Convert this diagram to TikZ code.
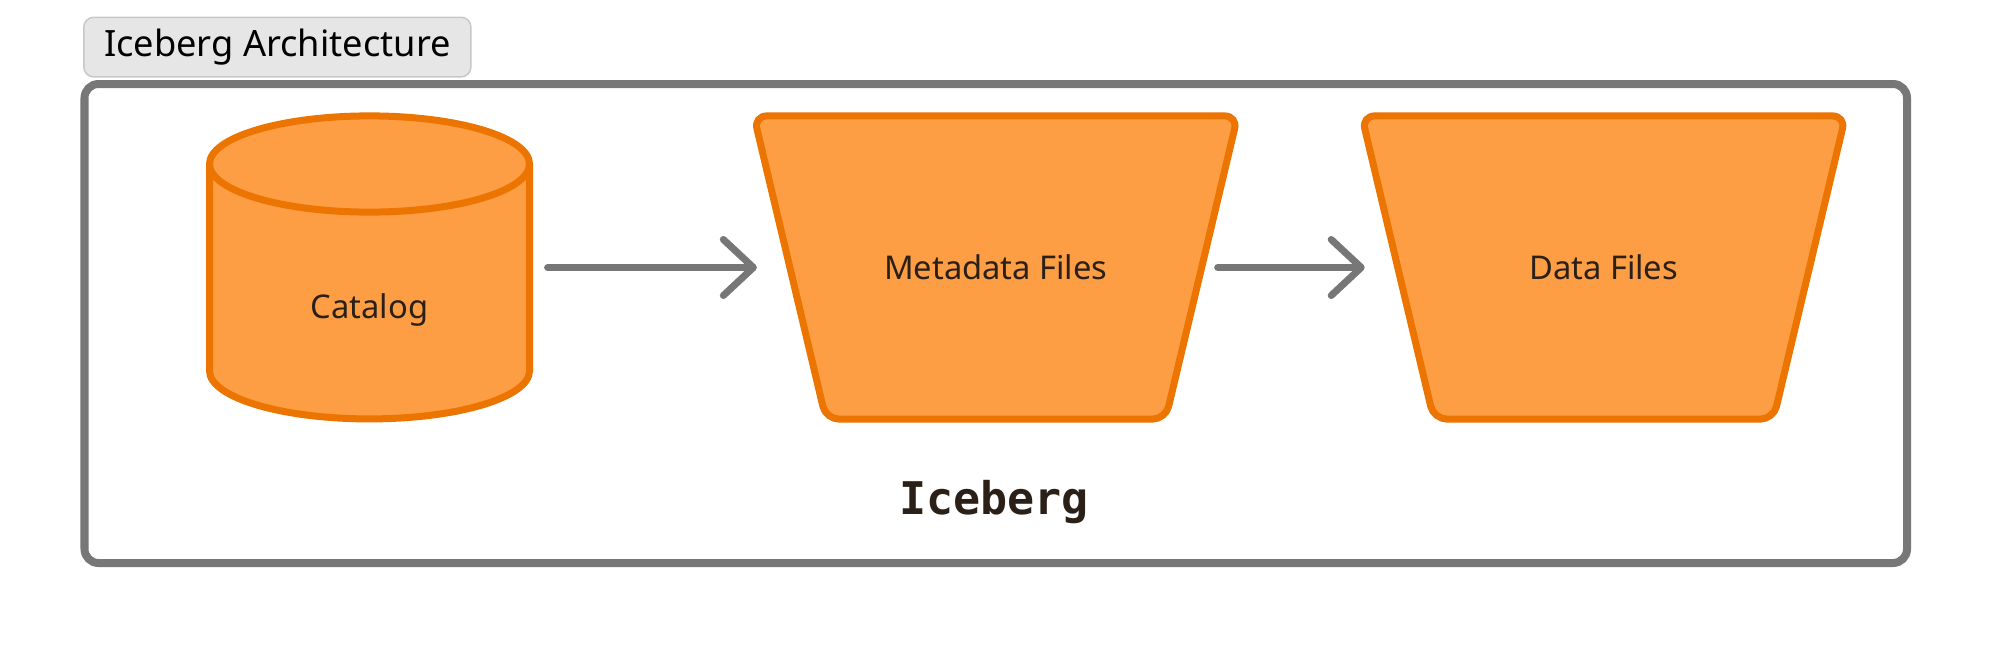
\documentclass[tikz,border=0pt]{standalone}
\usepackage{fontspec}
\setmainfont{Noto Sans}
\newfontfamily\codefont{DejaVu Sans Mono}
\usetikzlibrary{arrows.meta,backgrounds}

\definecolor{filesfill}{HTML}{FD9E45}
\definecolor{filesline}{HTML}{EB7500}
\definecolor{framegray}{HTML}{777777}
\definecolor{titlefill}{HTML}{E6E6E6}
\definecolor{titleline}{HTML}{C8C8C8}
\definecolor{inktext}{HTML}{2A2018}

\begin{document}
\begin{tikzpicture}[x=0.01cm, y=-0.01cm,
	part/.style={minimum width=4.115cm, minimum height=3.03cm, inner sep=0pt, outer sep=0pt,
		text=inktext, font=\fontsize{9.3pt}{11pt}\selectfont},
	partline/.style={fill=filesfill, draw=filesline, line width=0.07cm, rounded corners=0.13cm},
	flow/.style={draw=framegray, line width=0.07cm, line cap=round,
		-{Straight Barb[length=0.3cm, width=0.56cm, round]}}]

	% size of the page
	\useasboundingbox (0,0) rectangle (1992,648);

	% title
	\node[anchor=north west, fill=titlefill, draw=titleline, line width=0.015cm,
		rounded corners=0.1cm, minimum width=3.87cm, minimum height=0.545cm,
		font=\fontsize{10.3pt}{12pt}\selectfont] (title) at (83,16.5) {Iceberg Architecture};

	% frame
	\draw[framegray, line width=0.08cm, rounded corners=0.14cm] (84.5,84) rectangle (1907,563);

	% parts
	\node[part, minimum width=3.2cm, outer sep=0.035cm] (catalog) at (369.5,267.5) {};
	\node[part, minimum width=0pt, minimum height=0pt] (catalogtext) at (369.5,310) {Catalog};
	\node[part] (meta) at (995.75,267.5) {Metadata Files};
	\node[part] (data) at (1603.6,267.5) {Data Files};

	% shapes
	\begin{scope}[on background layer]
	\filldraw[partline, rounded corners=0pt] (209.5,164) -- (209.5,370.8) arc[start angle=180, end angle=0, x radius=160, y radius=48.1] -- (529.5,164);
	\filldraw[partline] (369.5,164) ellipse [x radius=160, y radius=48.1];
	\filldraw[partline] ([xshift=-0.36cm]meta.north west) -- ([xshift=0.36cm]meta.north east) -- ([xshift=-0.36cm]meta.south east) -- ([xshift=0.36cm]meta.south west) -- cycle;
	\filldraw[partline] ([xshift=-0.36cm]data.north west) -- ([xshift=0.36cm]data.north east) -- ([xshift=-0.36cm]data.south east) -- ([xshift=0.36cm]data.south west) -- cycle;
	\end{scope}

	% arrows
	\draw[flow, shorten <=0.145cm, shorten >=0.33cm] (catalog.east) -- (meta.west);
	\draw[flow, shorten <=0.16cm, shorten >=0.33cm] (meta.east) -- (data.west);

	% name
	\node[anchor=base, text=inktext, font=\codefont\bfseries\fontsize{12.8pt}{15pt}\selectfont] (iceberg) at (994,514.5) {Iceberg};

\end{tikzpicture}
\end{document}
